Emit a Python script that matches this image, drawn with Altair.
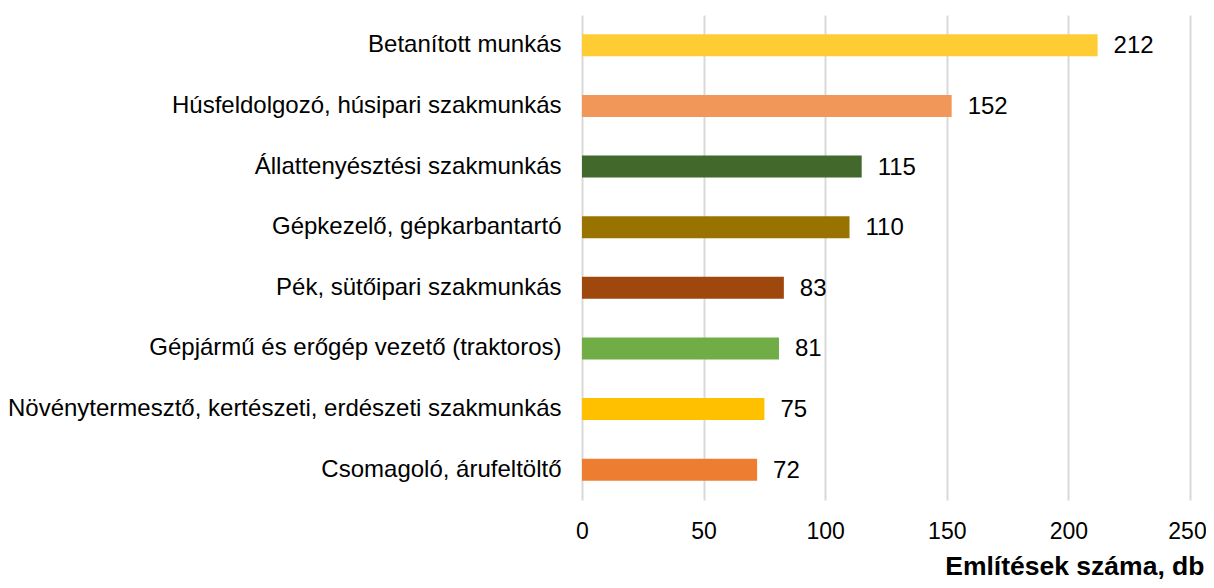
import altair as alt
import pandas as pd

categories = [
    "Betanított munkás",
    "Húsfeldolgozó, húsipari szakmunkás",
    "Állattenyésztési szakmunkás",
    "Gépkezelő, gépkarbantartó",
    "Pék, sütőipari szakmunkás",
    "Gépjármű és erőgép vezető (traktoros)",
    "Növénytermesztő, kertészeti, erdészeti szakmunkás",
    "Csomagoló, árufeltöltő",
]
values = [212, 152, 115, 110, 83, 81, 75, 72]
colors = ["#FFCD33", "#F1975A", "#43682B", "#997300", "#9E480E", "#70AD47", "#FFC000", "#ED7D31"]
x_ticks = [0, 50, 100, 150, 200, 250]

df = pd.DataFrame({"cat": categories, "val": values, "color": colors})

FONT = "Liberation Sans"

y = alt.Y("cat:N", sort=categories, title=None,
          axis=alt.Axis(domain=False, ticks=False, labelPadding=21, labelFontSize=24,
                        labelColor="#000000", labelFont=FONT, labelLimit=700))
x = alt.X("val:Q", scale=alt.Scale(domain=[0, 250], nice=False),
          axis=alt.Axis(values=x_ticks, domain=False, ticks=False, grid=True,
                        gridColor="#D9D9D9", gridWidth=2, labelPadding=20,
                        labelFlush=False, labelFontSize=23, labelColor="#000000",
                        labelFont=FONT,
                        labelOffset={"condition": {"test": "datum.value == 250", "value": -3},
                                     "value": 0},
                        title="Említések száma, db", titleFont=FONT, titleFontSize=26.5,
                        titleFontWeight="bold", titleColor="#000000",
                        titleAnchor="end", titleAlign="right", titleBaseline="alphabetic",
                        titleX=622, titleY=74))

bars = alt.Chart(df).mark_bar(size=22).encode(
    x=x, y=y, color=alt.Color("color:N", scale=None)
)
labels = alt.Chart(df).mark_text(align="left", baseline="middle", dx=16, dy=1,
                                 fontSize=24, font=FONT, color="#000000").encode(
    x="val:Q", y=alt.Y("cat:N", sort=categories), text="val:Q"
)

chart = (bars + labels).properties(
    width=608, height=485,
    background="white",
    autosize=alt.AutoSizeParams(type="none"),
    padding={"left": 574, "top": 7, "right": 16, "bottom": 80},
).configure_view(stroke=None)

chart.save("out.html", embed_options={"renderer": "svg", "actions": False})
